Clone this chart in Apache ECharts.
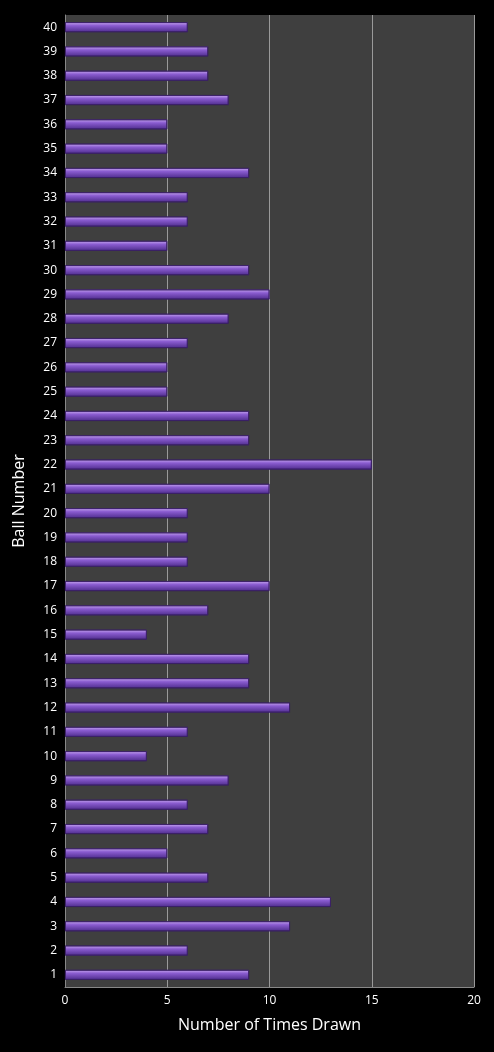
<!DOCTYPE html>
<html>
<head>
<meta charset="utf-8">
<script src="https://cdn.jsdelivr.net/npm/echarts@6/dist/echarts.min.js"></script>
<style>
  html, body { margin: 0; padding: 0; background: #000; }
  #chart { width: 494px; height: 1052px; }
</style>
</head>
<body>
<div id="chart"></div>
<script>
// ball numbers, bottom to top
var balls = [];
for (var i = 1; i <= 40; i++) balls.push(String(i));
// times each ball was drawn
var timesDrawn = [9, 6, 11, 13, 7, 5, 7, 6, 8, 4,
                  6, 11, 9, 9, 4, 7, 10, 6, 6, 6,
                  10, 15, 9, 9, 5, 5, 6, 8, 10, 9,
                  5, 6, 6, 9, 5, 5, 8, 7, 7, 6];

var chart = echarts.init(document.getElementById('chart'));
var txt = { color: '#fff', fontFamily: 'Open Sans', fontSize: 12 };

chart.setOption({
    backgroundColor: '#000',
    grid: {
        left: 65, right: 20, top: 15, bottom: 65,
        show: true, backgroundColor: '#3f3f3f', borderWidth: 0
    },
    xAxis: {
        type: 'value', min: 0, max: 20, interval: 5,
        name: 'Number of Times Drawn', nameLocation: 'middle', nameGap: 30,
        nameTextStyle: { color: '#fff', fontFamily: 'Open Sans', fontSize: 16 },
        axisLabel: txt,
        axisLine: { show: true, lineStyle: { color: '#888' } },
        axisTick: { show: false },
        splitLine: { lineStyle: { color: '#9a9a9a', width: 1 } }
    },
    yAxis: {
        type: 'category', data: balls,
        name: 'Ball Number', nameLocation: 'middle', nameGap: 38, nameRotate: 90,
        nameTextStyle: { color: '#fff', fontFamily: 'Open Sans', fontSize: 16 },
        axisLabel: txt,
        axisLine: { show: true, lineStyle: { color: '#888' } },
        axisTick: { show: false }
    },
    series: [{
        type: 'bar',
        data: timesDrawn,
        barWidth: 10,
        itemStyle: {
            borderColor: '#3a1f66', borderWidth: 0.8,
            color: new echarts.graphic.LinearGradient(0, 0, 0, 1, [
                { offset: 0, color: '#c8a8f0' },
                { offset: 0.35, color: '#8a5cd0' },
                { offset: 1, color: '#4e2c8c' }
            ])
        }
    }]
});
</script>
</body>
</html>
